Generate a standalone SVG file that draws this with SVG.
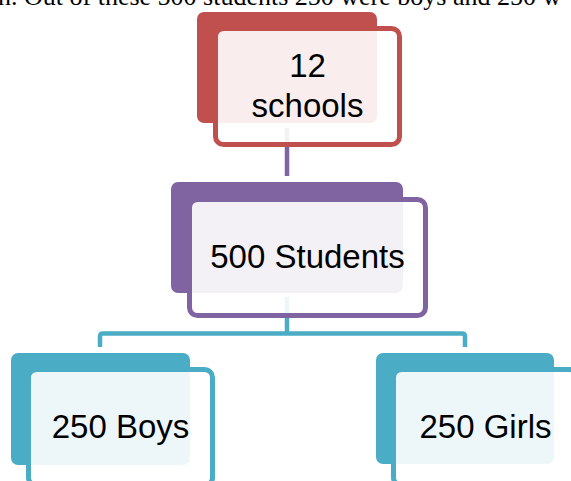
<svg xmlns="http://www.w3.org/2000/svg" width="571" height="481" viewBox="0 0 571 481">
  <style>
    .back { stroke: none; }
    .front { fill: #ffffff; fill-opacity: 0.9; stroke-width: 5; }
    .label { font-family: "Liberation Sans", Arial, sans-serif; font-size: 33px; fill: #000000; text-anchor: middle; }
    .conn { fill: none; stroke-width: 4.5; stroke-linejoin: round; }
    .red .back { fill: #C0504D; } .red .front { stroke: #C0504D; }
    .purple .back { fill: #8064A2; } .purple .front { stroke: #8064A2; }
    .blue .back { fill: #4BACC6; } .blue .front { stroke: #4BACC6; }
    .para { font-family: "Liberation Serif", "Times New Roman", serif; font-size: 26px; fill: #000000; }
  </style>

  <!-- running text line above the chart, cut by the top edge -->
  <text class="para" x="-2" y="4.5">n. Out of these 500 students 250 were boys and 250 w</text>

  <!-- connectors sit beneath the boxes -->
  <g id="connectors">
    <line class="conn" x1="287" y1="128" x2="287" y2="176" stroke="#8064A2"/>
    <line class="conn" x1="287" y1="297" x2="287" y2="334" stroke="#4BACC6"/>
    <path class="conn" stroke="#4BACC6" d="M100,347 V336.5 Q100,333.5 103,333.5 H462 Q465,333.5 465,336.5 V347"/>
  </g>

  <g id="node-schools" class="red">
    <rect class="back" x="197" y="12" width="180" height="111" rx="7"/>
    <rect class="front" x="215.5" y="28.5" width="184" height="116" rx="8"/>
    <text class="label" x="307.5" y="77">12</text>
    <text class="label" x="307.5" y="117">schools</text>
  </g>

  <g id="node-students" class="purple">
    <rect class="back" x="171" y="182" width="232" height="111" rx="7"/>
    <rect class="front" x="189.5" y="199.5" width="236" height="116" rx="8"/>
    <text class="label" x="307.5" y="268">500 Students</text>
  </g>

  <g id="node-boys" class="blue">
    <rect class="back" x="11" y="353" width="179" height="112" rx="7"/>
    <rect class="front" x="28.5" y="369.5" width="184" height="116" rx="8"/>
    <text class="label" x="120.5" y="438">250 Boys</text>
  </g>

  <g id="node-girls" class="blue">
    <rect class="back" x="376" y="353" width="178" height="111" rx="7"/>
    <rect class="front" x="393.5" y="369.5" width="184" height="116" rx="8"/>
    <text class="label" x="485.5" y="438">250 Girls</text>
  </g>
</svg>
